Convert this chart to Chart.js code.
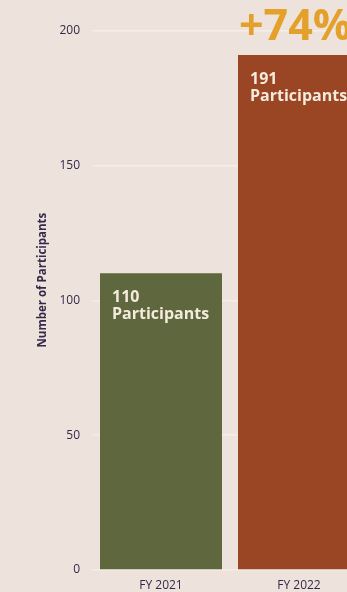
<!DOCTYPE html>
<html>
<head>
<meta charset="utf-8">
<script src="https://cdn.jsdelivr.net/npm/chart.js@4/dist/chart.umd.min.js"></script>
<style>
  html, body { margin: 0; padding: 0; background: #ede3dc; overflow: hidden; }
  body { width: 347px; height: 592px; position: relative; }
  #wrap { position: absolute; left: 0; top: -29px; width: 368px; height: 621px; }
</style>
</head>
<body>
<div id="wrap"><canvas id="participantsChart" width="368" height="621"></canvas></div>
<script>
const years = ['FY 2021', 'FY 2022'];
const participants = [110, 191];
const barColors = ['#5e673e', '#9a4524'];
const growthLabel = '+74%';

const inkColor = '#35284a';
const labelColor = '#f5ebdd';

// text inside each bar: count on the first line, "Participants" below it
const barLabels = {
  id: 'barLabels',
  afterDatasetsDraw(chart) {
    const ctx = chart.ctx;
    const bars = chart.getDatasetMeta(0).data;
    ctx.save();
    ctx.fillStyle = labelColor;
    ctx.textAlign = 'left';
    ctx.textBaseline = 'alphabetic';
    ctx.font = 'bold 16px "Open Sans"';
    bars.forEach((bar, i) => {
      const left = bar.x - bar.width / 2 + 12;
      ctx.fillText(String(participants[i]), left, bar.y + 29);
      ctx.fillText('Participants', left, bar.y + 46);
    });

    // growth figure above the second bar
    const last = bars[bars.length - 1];
    ctx.fillStyle = '#e3a12c';
    ctx.font = 'bold 43px "Open Sans"';
    ctx.fillText(growthLabel, last.x - last.width / 2 + 1, last.y - 15);
    ctx.restore();
  }
};

new Chart(document.getElementById('participantsChart'), {
  type: 'bar',
  data: {
    labels: years,
    datasets: [{
      data: participants,
      backgroundColor: barColors,
      borderWidth: 0,
      categoryPercentage: 1,
      barPercentage: 0.884
    }]
  },
  options: {
    responsive: false,
    animation: false,
    layout: { padding: 0 },
    plugins: {
      legend: { display: false },
      tooltip: { enabled: false }
    },
    scales: {
      x: {
        grid: { display: false },
        border: { display: false },
        ticks: {
          color: inkColor,
          font: { family: 'Open Sans', size: 12 },
          padding: 0
        },
        afterFit(scale) { scale.height = 22; }
      },
      y: {
        min: 0,
        max: 215,
        grid: { color: '#f3eee9', lineWidth: 1.5, drawTicks: false },
        border: { display: false },
        ticks: {
          stepSize: 50,
          includeBounds: false,
          color: inkColor,
          font: { family: 'Open Sans', size: 12 },
          padding: 12
        },
        title: {
          display: true,
          text: 'Number of Participants',
          color: inkColor,
          font: { family: 'Open Sans', size: 11.5, weight: 'bold' },
          padding: { top: 36, bottom: 0 }
        },
        afterFit(scale) { scale.width = 92; }
      }
    }
  },
  plugins: [barLabels]
});
</script>
</body>
</html>
